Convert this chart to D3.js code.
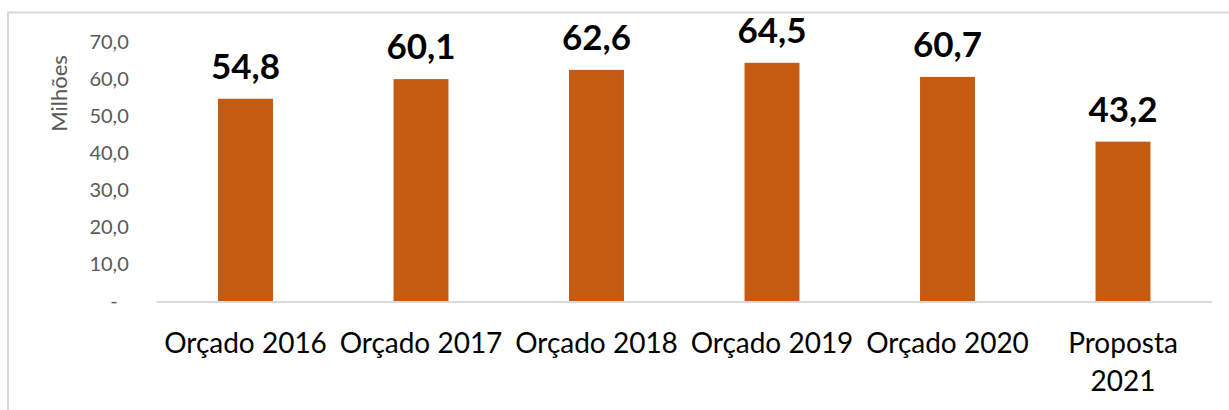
<!DOCTYPE html>
<html>
<head>
<meta charset="utf-8">
<script src="https://cdn.jsdelivr.net/npm/d3@7"></script>
<style>
  body { margin: 0; background: #fff; }
  text { font-family: Lato, "Open Sans", sans-serif; }
</style>
</head>
<body>
<svg id="chart" width="1229" height="410"></svg>
<script>
/* data */
const categories = ["Orçado 2016", "Orçado 2017", "Orçado 2018", "Orçado 2019", "Orçado 2020", "Proposta 2021"];
const values = [54.8, 60.1, 62.6, 64.5, 60.7, 43.2];
const yTicks = [0, 10, 20, 30, 40, 50, 60, 70];

const svg = d3.select("#chart");
const W = 1229, H = 410;
const margin = { top: 42.5, right: 18, bottom: 108.5, left: 157.75 };
const innerW = 1053, innerH = H - margin.top - margin.bottom;

// chart frame (cropped on right and bottom)
svg.append("rect")
  .attr("x", 8).attr("y", 12.5)
  .attr("width", 1240).attr("height", 420)
  .attr("fill", "none").attr("stroke", "#d9d9d9").attr("stroke-width", 2);

const g = svg.append("g").attr("transform", `translate(${margin.left},${margin.top})`);

const x = d3.scaleBand().domain(categories).range([0, innerW]).paddingInner(0.687).paddingOuter(0.3435);
const y = d3.scaleLinear().domain([0, 70]).range([innerH, 0]);

const fmt = v => v === 0 ? "-" : d3.format(".1f")(v).replace(".", ",");

/* y axis */
const yAxis = g.append("g").call(d3.axisLeft(y).tickValues(yTicks).tickSize(0).tickPadding(29).tickFormat(fmt));
yAxis.select(".domain").remove();
yAxis.selectAll("text")
  .attr("fill", "#595959").style("font-size", "20px")
  .attr("dx", d => d === 0 ? -11 : 0);

g.append("text")
  .attr("transform", "rotate(-90)")
  .attr("x", -(y(70) + 51)).attr("y", -91)
  .attr("text-anchor", "middle")
  .attr("fill", "#595959").style("font-size", "22px")
  .text("Milhões");

/* bars */
g.selectAll("rect.bar").data(values).join("rect")
  .attr("class", "bar")
  .attr("x", (d, i) => x(categories[i]))
  .attr("width", x.bandwidth())
  .attr("y", d => y(d))
  .attr("height", d => innerH - y(d))
  .attr("fill", "#C55A11");

/* baseline */
g.append("line")
  .attr("x1", -1).attr("x2", innerW + 1)
  .attr("y1", innerH + 0.5).attr("y2", innerH + 0.5)
  .attr("stroke", "#d9d9d9").attr("stroke-width", 2);

/* value labels */
g.selectAll("text.val").data(values).join("text")
  .attr("class", "val")
  .attr("x", (d, i) => x(categories[i]) + x.bandwidth() / 2)
  .attr("y", d => y(d) - 20)
  .attr("text-anchor", "middle")
  .style("font-size", "35px").style("font-weight", "bold")
  .attr("fill", "#000")
  .text(fmt);

/* x labels */
const xl = g.selectAll("text.cat").data(categories).join("text")
  .attr("class", "cat")
  .attr("x", d => x(d) + x.bandwidth() / 2)
  .attr("y", innerH + 51)
  .attr("text-anchor", "middle")
  .style("font-size", "28px")
  .attr("fill", "#000");
xl.each(function (d) {
  const lines = d.startsWith("Proposta") ? d.split(" ") : [d];
  d3.select(this).selectAll("tspan").data(lines).join("tspan")
    .attr("x", d3.select(this).attr("x"))
    .attr("dy", (l, i) => i === 0 ? 0 : 38)
    .text(l => l);
});
</script>
</body>
</html>
